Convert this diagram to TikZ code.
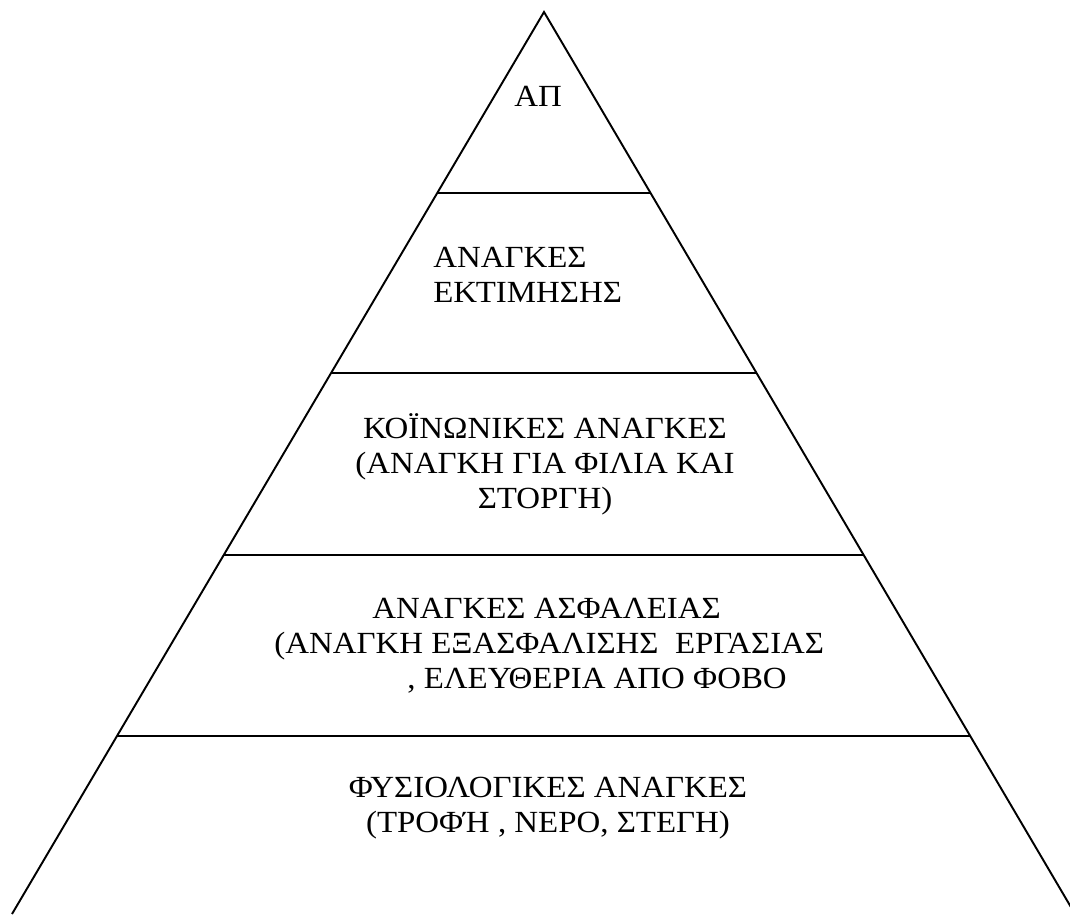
\documentclass[tikz,border=0pt]{standalone}
\usepackage{fontspec}
\setmainfont{Liberation Serif}[FakeStretch=1.07]
\usetikzlibrary{calc}

\begin{document}
\begin{tikzpicture}[x=0.02cm, y=-0.02cm,
    level/.style={font=\fontsize{17.5pt}{19.9pt}\selectfont, inner sep=0pt},
    side/.style={line width=1.1pt},
    shelf/.style={line width=1.6pt}
]
    \useasboundingbox (0,0) rectangle (1070,914);
    \clip (0,0) rectangle (1070,914);
    % pyramid outline
    \coordinate (apex) at (544,12);
    \coordinate (lfoot) at (12,914);
    \coordinate (rfoot) at (1075,914);
    \draw[side] (lfoot) -- (apex) -- (rfoot);
    % the four shelves
    \foreach \t in {0.2007, 0.4002, 0.6020, 0.8027}
        \draw[shelf] ($(apex)!\t!(lfoot)$) -- ($(apex)!\t!(rfoot)$);
    % levels (base = baseline of the last line)
    \node[level, anchor=base] (top) at (538,106) {ΑΠ};
    \node[level, align=left, anchor=base west] (esteem) at (433,302)
        {ΑΝΑΓΚΕΣ\\ΕΚΤΙΜΗΣΗΣ};
    \node[level, align=center, anchor=base] (social) at (545,508)
        {ΚΟΪΝΩΝΙΚΕΣ ΑΝΑΓΚΕΣ\\(ΑΝΑΓΚΗ ΓΙΑ ΦΙΛΙΑ ΚΑΙ\\ΣΤΟΡΓΗ)};
    \node[level, align=left, anchor=base west] (safety) at (274,688)
        {\hspace*{1.96cm}ΑΝΑΓΚΕΣ ΑΣΦΑΛΕΙΑΣ\\(ΑΝΑΓΚΗ ΕΞΑΣΦΑΛΙΣΗΣ\ \ ΕΡΓΑΣΙΑΣ\\\hspace*{2.66cm}, ΕΛΕΥΘΕΡΙΑ ΑΠΟ ΦΟΒΟ};
    \node[level, align=center, anchor=base] (body) at (548,832)
        {ΦΥΣΙΟΛΟΓΙΚΕΣ ΑΝΑΓΚΕΣ\\(ΤΡΟΦΉ , ΝΕΡΟ, ΣΤΕΓΗ)};
\end{tikzpicture}
\end{document}
